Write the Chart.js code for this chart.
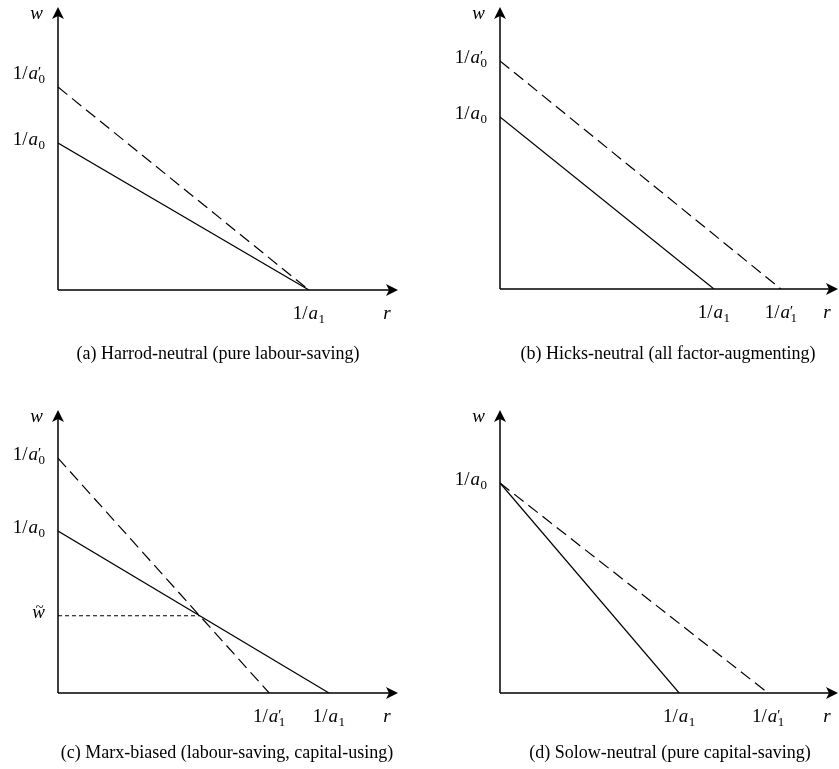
<!DOCTYPE html>
<html>
<head>
<meta charset="utf-8">
<script src="https://cdn.jsdelivr.net/npm/chart.js@4/dist/chart.umd.min.js"></script>
<style>
  html, body { margin: 0; padding: 0; background: #fff; }
  body { width: 839px; height: 769px; position: relative; overflow: hidden; }
  .panel { position: absolute; }
  canvas { display: block; }
</style>
</head>
<body>
<div class="panel" style="left:0;top:0;width:420px;height:380px"><canvas id="ca" width="420" height="380"></canvas></div>
<div class="panel" style="left:420px;top:0;width:419px;height:380px"><canvas id="cb" width="419" height="380"></canvas></div>
<div class="panel" style="left:0;top:380px;width:420px;height:389px"><canvas id="cc" width="420" height="389"></canvas></div>
<div class="panel" style="left:420px;top:380px;width:419px;height:389px"><canvas id="cd" width="419" height="389"></canvas></div>
<script>
// ---------------- DATA (axis units: 0 = origin, 10 = arrow tip) ----------------
const captions = [
  "(a) Harrod-neutral (pure labour-saving)",
  "(b) Hicks-neutral (all factor-augmenting)",
  "(c) Marx-biased (labour-saving, capital-using)",
  "(d) Solow-neutral (pure capital-saving)"
];
const axisLabels = ["r", "w"];

// (a) Harrod-neutral
const aSolidR = [0, 7.38], aSolidW = [5.19, 0];
const aDashR  = [0, 7.38], aDashW  = [7.17, 0];
const aTickW = [5.19, 7.17], aTickWLabels = ["1/a_0", "1/a'_0"];
const aTickR = [7.38],       aTickRLabels = ["1/a_1"];

// (b) Hicks-neutral
const bSolidR = [0, 6.33], bSolidW = [6.10, 0];
const bDashR  = [0, 8.31], bDashW  = [8.09, 0];
const bTickW = [6.10, 8.09], bTickWLabels = ["1/a_0", "1/a'_0"];
const bTickR = [6.33, 8.31], bTickRLabels = ["1/a_1", "1/a'_1"];

// (c) Marx-biased
const cSolidR = [0, 7.97], cSolidW = [5.72, 0];
const cDashR  = [0, 6.21], cDashW  = [8.30, 0];
const cTildeR = [0, 4.17], cTildeW = [2.73, 2.73];
const cTickW = [5.72, 8.30, 2.73], cTickWLabels = ["1/a_0", "1/a'_0", "~w"];
const cTickR = [6.21, 7.97],       cTickRLabels = ["1/a'_1", "1/a_1"];

// (d) Solow-neutral
const dSolidR = [0, 5.30], dSolidW = [7.42, 0];
const dDashR  = [0, 7.93], dDashW  = [7.42, 0];
const dTickW = [7.42],       dTickWLabels = ["1/a_0"];
const dTickR = [5.30, 7.93], dTickRLabels = ["1/a_1", "1/a'_1"];

// ---------------- DRAWING ----------------
const SERIF = '"Liberation Serif", "DejaVu Serif", serif';
const FS = 19;      // math labels
const FC = 18;      // captions

function pts(rs, ws) { return rs.map((r, i) => ({ x: r, y: ws[i] })); }

function drawLabel(ctx, spec, x, y, align) {
  ctx.save();
  ctx.fillStyle = '#000';
  ctx.textBaseline = 'alphabetic';
  ctx.textAlign = 'left';
  if (spec === "~w") {
    ctx.font = 'italic ' + FS + 'px ' + SERIF;
    const wd = ctx.measureText("w").width;
    let sx = align === 'right' ? x - wd : (align === 'center' ? x - wd / 2 : x);
    ctx.fillText("w", sx, y);
    ctx.font = Math.round(FS * 0.8) + 'px ' + SERIF;
    const tw = ctx.measureText("~").width;
    ctx.fillText("~", sx + wd / 2 - tw / 2 + 1, y - 6);
    ctx.restore();
    return;
  }
  const m = spec.match(/^1\/a('?)_(\d)$/);
  const prime = m[1] === "'";
  const sub = m[2];
  const fReg = FS + 'px ' + SERIF;
  const fIt = 'italic ' + FS + 'px ' + SERIF;
  const fSub = Math.round(FS * 0.7) + 'px ' + SERIF;
  const fPr = 'italic ' + Math.round(FS * 0.8) + 'px ' + SERIF;
  ctx.font = fReg; const w1 = ctx.measureText("1/").width;
  ctx.font = fIt;  const wa = ctx.measureText("a").width;
  ctx.font = fSub; const ws = ctx.measureText(sub).width;
  const total = w1 + 1 + wa + 0.5 + ws;
  let sx = align === 'right' ? x - total : (align === 'center' ? x - total / 2 : x);
  ctx.font = fReg; ctx.fillText("1/", sx, y);
  ctx.font = fIt;  ctx.fillText("a", sx + w1 + 1, y);
  const ax = sx + w1 + 1 + wa;
  if (prime) { ctx.font = fPr; ctx.fillText("\u2032", ax - 1, y - 2); }
  ctx.font = fSub; ctx.fillText(sub, ax + 0.5, y + 4);
  ctx.restore();
}

function arrowHead(ctx, x, y, dir) {
  const L = 12, H = 6, N = 9;
  ctx.beginPath();
  if (dir === 'right') {
    ctx.moveTo(x, y); ctx.lineTo(x - L, y - H); ctx.lineTo(x - N, y); ctx.lineTo(x - L, y + H);
  } else {
    ctx.moveTo(x, y); ctx.lineTo(x - H, y + L); ctx.lineTo(x, y + N); ctx.lineTo(x + H, y + L);
  }
  ctx.closePath();
  ctx.fill();
}

const diagramPlugin = {
  id: 'diagram',
  beforeDatasetsDraw(chart, args, o) {
    const ctx = chart.ctx, xs = chart.scales.x, ys = chart.scales.y;
    const x0 = xs.getPixelForValue(0), y0 = ys.getPixelForValue(0);
    const xt = xs.getPixelForValue(xs.max), yt = ys.getPixelForValue(ys.max);
    ctx.save();
    ctx.strokeStyle = '#000'; ctx.fillStyle = '#000'; ctx.lineWidth = 1.5;
    ctx.beginPath();
    ctx.moveTo(x0, y0); ctx.lineTo(xt - 8, y0);
    ctx.moveTo(x0, y0); ctx.lineTo(x0, yt + 8);
    ctx.stroke();
    arrowHead(ctx, xt, y0, 'right');
    arrowHead(ctx, x0, yt, 'up');
    ctx.restore();
  },
  afterDatasetsDraw(chart, args, o) {
    const ctx = chart.ctx, xs = chart.scales.x, ys = chart.scales.y;
    const x0 = xs.getPixelForValue(0), y0 = ys.getPixelForValue(0);
    const xt = xs.getPixelForValue(xs.max), yt = ys.getPixelForValue(ys.max);
    o.yTicks.forEach((v, i) => {
      const dy = (o.yLabelShift && o.yLabelShift[i]) || 0;
      drawLabel(ctx, o.yLabels[i], x0 - 13, ys.getPixelForValue(v) + 2 + dy, 'right');
    });
    o.xTicks.forEach((v, i) => {
      drawLabel(ctx, o.xLabels[i], xs.getPixelForValue(v), y0 + 29, 'center');
    });
    ctx.save();
    ctx.fillStyle = '#000';
    ctx.font = 'italic ' + FS + 'px ' + SERIF;
    ctx.textBaseline = 'alphabetic';
    ctx.textAlign = 'center';
    ctx.fillText(axisLabels[0], xt - 11, y0 + 29);
    ctx.textAlign = 'right';
    ctx.fillText(axisLabels[1], x0 - 15, yt + 12);
    ctx.font = FC + 'px ' + SERIF;
    ctx.textAlign = 'center';
    ctx.fillText(o.caption, o.capX, o.capY);
    ctx.restore();
  }
};

function makeChart(id, pad, datasets, opts) {
  return new Chart(document.getElementById(id), {
    type: 'scatter',
    data: { datasets: datasets },
    options: {
      responsive: false,
      animation: false,
      events: [],
      layout: { padding: pad },
      scales: {
        x: { type: 'linear', min: 0, max: 10, display: false },
        y: { type: 'linear', min: 0, max: 10, display: false }
      },
      plugins: {
        legend: { display: false },
        tooltip: { enabled: false },
        diagram: opts
      }
    },
    plugins: [diagramPlugin]
  });
}

function solid(d) { return { data: d, showLine: true, pointRadius: 0, borderColor: '#000', borderWidth: 1.2, fill: false }; }
function dashed(d) { return { data: d, showLine: true, pointRadius: 0, borderColor: '#000', borderWidth: 1.2, borderDash: [12, 6], fill: false }; }
function fine(d) { return { data: d, showLine: true, pointRadius: 0, borderColor: '#000', borderWidth: 1.2, borderDash: [4, 3], fill: false }; }

makeChart('ca', { left: 58, top: 7, right: 22, bottom: 90 },
  [solid(pts(aSolidR, aSolidW)), dashed(pts(aDashR, aDashW))],
  { yTicks: aTickW, yLabels: aTickWLabels, yLabelShift: [0, -10], xTicks: aTickR, xLabels: aTickRLabels,
    caption: captions[0], capX: 218, capY: 359 });

makeChart('cb', { left: 80, top: 7, right: 1, bottom: 91 },
  [solid(pts(bSolidR, bSolidW)), dashed(pts(bDashR, bDashW))],
  { yTicks: bTickW, yLabels: bTickWLabels, xTicks: bTickR, xLabels: bTickRLabels,
    caption: captions[1], capX: 248, capY: 359 });

makeChart('cc', { left: 58, top: 30, right: 22, bottom: 76 },
  [solid(pts(cSolidR, cSolidW)), dashed(pts(cDashR, cDashW)), fine(pts(cTildeR, cTildeW))],
  { yTicks: cTickW, yLabels: cTickWLabels, xTicks: cTickR, xLabels: cTickRLabels,
    caption: captions[2], capX: 227, capY: 378 });

makeChart('cd', { left: 80, top: 30, right: 1, bottom: 76 },
  [solid(pts(dSolidR, dSolidW)), dashed(pts(dDashR, dDashW))],
  { yTicks: dTickW, yLabels: dTickWLabels, xTicks: dTickR, xLabels: dTickRLabels,
    caption: captions[3], capX: 250, capY: 378 });
</script>
</body>
</html>
